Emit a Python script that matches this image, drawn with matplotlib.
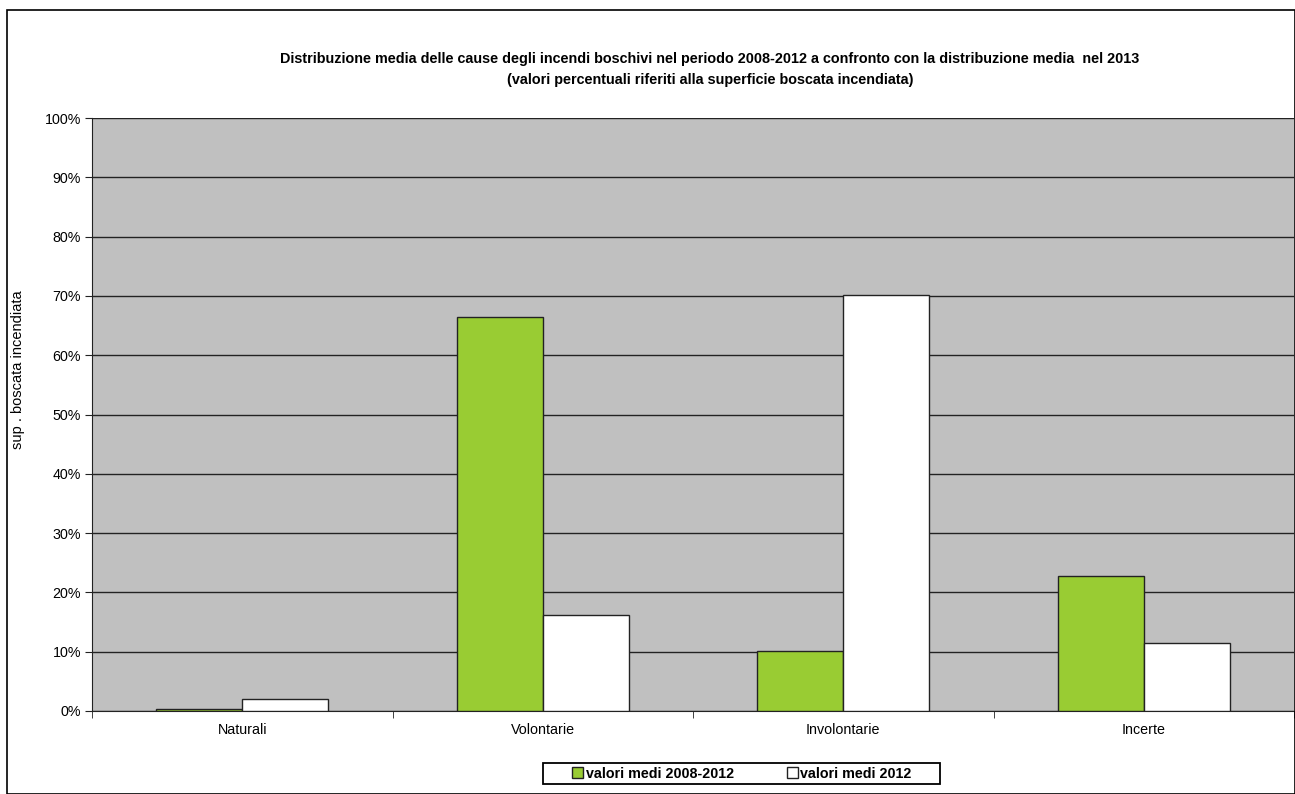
import matplotlib
matplotlib.use("Agg")
import matplotlib.pyplot as plt
import numpy as np
from matplotlib.patches import Rectangle, Patch

plt.rcParams['font.family'] = ['Liberation Sans', 'DejaVu Sans']

categories = ["Naturali", "Volontarie", "Involontarie", "Incerte"]
media_2008_2012 = [0.4, 66.4, 10.1, 22.8]
media_2012 = [2.1, 16.2, 70.2, 11.5]
series_labels = ["valori medi 2008-2012", "valori medi 2012"]
yticks = list(range(0, 101, 10))
ytick_labels = [f"{v}%" for v in yticks]
title = ("Distribuzione media delle cause degli incendi boschivi nel periodo 2008-2012 a confronto con la distribuzione media  nel 2013\n"
         "(valori percentuali riferiti alla superficie boscata incendiata)")
ylabel = "sup . boscata incendiata"

W, H = 1295, 794
fig = plt.figure(figsize=(W/100, H/100), dpi=100)
ax = fig.add_axes([92/W, 1 - 711/H, (1294-92)/W, (711-118)/H])
ax.set_facecolor('#C0C0C0')

x = np.arange(len(categories))
bw = 0.287
green = '#99CC33'
ax.bar(x - bw/2, media_2008_2012, bw, color=green, edgecolor='#222222', linewidth=1.0, zorder=3, label=series_labels[0])
ax.bar(x + bw/2, media_2012, bw, color='white', edgecolor='#222222', linewidth=1.0, zorder=3, label=series_labels[1])

ax.set_xlim(-0.5, len(categories) - 0.5)
ax.set_ylim(0, 100)
ax.set_yticks(yticks)
ax.set_yticklabels(ytick_labels, fontsize=10.3)
ax.yaxis.grid(True, color='#222222', linewidth=1.0, zorder=1)
ax.set_axisbelow(True)

ax.set_xticks(x)
ax.set_xticklabels(categories, fontsize=10.3)
ax.tick_params(axis='x', length=0, pad=9)
ax.set_xticks(np.arange(-0.5, len(categories)), minor=True)
ax.tick_params(axis='x', which='minor', length=5, direction='out', color='#222222')
ax.tick_params(axis='y', length=5, direction='out', color='#222222', pad=3)

for s in ['top', 'right']:
    ax.spines[s].set_visible(False)
ax.spines['left'].set_color('#222222')
ax.spines['bottom'].set_color('#222222')

fig.text(710/W, 1 - 69.5/H, title, ha='center', va='center', fontsize=10.4,
         fontweight='bold', linespacing=1.6)
fig.text(18/W, 1 - 370/H, ylabel, rotation=90, ha='center', va='center', fontsize=10.5)

handles = [Patch(facecolor=green, edgecolor='#222222', label=series_labels[0]),
           Patch(facecolor='white', edgecolor='#222222', label=series_labels[1])]
leg = fig.legend(handles=handles, loc='center', bbox_to_anchor=(742/W, 1 - 773.5/H), ncol=2,
                 prop={'weight': 'bold', 'size': 10.3}, frameon=False,
                 handlelength=0.75, handleheight=0.75, handletextpad=0.2,
                 columnspacing=3.7, borderpad=0.3)

fig.patches.append(Rectangle((543/W, 1 - 784/H), (940 - 543)/W, (784 - 763)/H, transform=fig.transFigure,
                             fill=False, edgecolor='black', linewidth=1.3))
fig.patches.append(Rectangle((7/W, 0), (W - 7)/W, (H - 10)/H, transform=fig.transFigure,
                             fill=False, edgecolor='black', linewidth=1.2))

fig.savefig('out.png', dpi=100)
